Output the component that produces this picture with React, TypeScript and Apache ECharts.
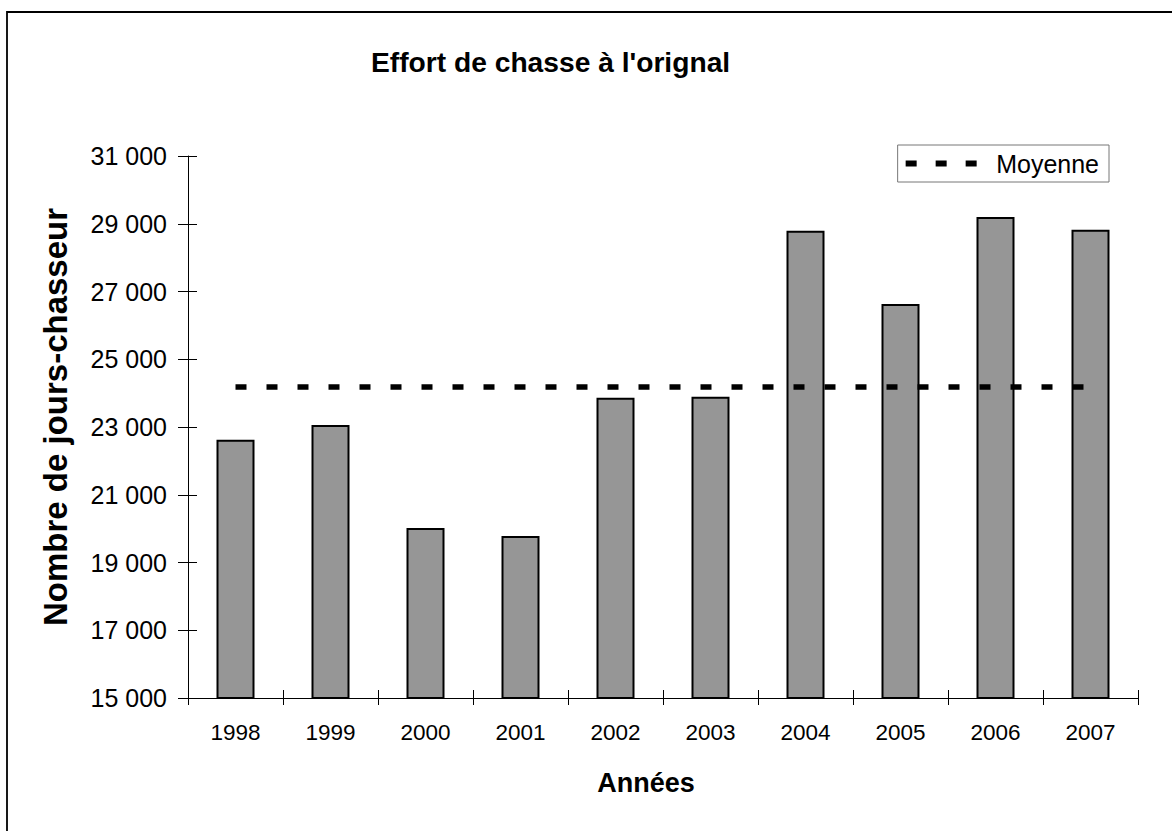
import React, { useEffect, useRef } from "react";
import * as echarts from "echarts";

const years = ["1998", "1999", "2000", "2001", "2002", "2003", "2004", "2005", "2006", "2007"];
const effort = [22620, 23060, 20020, 19780, 23860, 23890, 28790, 26630, 29200, 28820];
const moyenne = [24180, 24180, 24180, 24180, 24180, 24180, 24180, 24180, 24180, 24180];
const yMin = 15000;
const yMax = 31000;
const yStep = 2000;

const FONT = "Liberation Sans, Arial, sans-serif";

function fmt(v: number): string {
  const s = String(Math.round(v));
  return s.replace(/\B(?=(\d{3})+(?!\d))/g, " ");
}

export default function App() {
  const ref = useRef<HTMLDivElement>(null);
  useEffect(() => {
    if (!ref.current) return;
    const chart = echarts.init(ref.current, null, { renderer: "svg" });
    chart.setOption({
      animation: false,
      backgroundColor: "#ffffff",
      textStyle: { fontFamily: FONT, color: "#000" },
      title: {
        text: "Effort de chasse à l'orignal",
        left: 371,
        top: 48,
        padding: 0,
        textStyle: { fontFamily: FONT, fontSize: 28.2, fontWeight: "bold", color: "#000" },
      },
      legend: {
        right: 63,
        top: 145,
        orient: "horizontal",
        itemWidth: 72,
        itemHeight: 6,
        padding: [6, 10, 6, 8],
        borderColor: "#777",
        borderWidth: 1,
        textStyle: { fontFamily: FONT, fontSize: 25, color: "#000", padding: [0, 0, 0, 14] },
        data: [
          {
            name: "Moyenne",
            icon: "path://M0,0h11v6h-11z M30,0h11v6h-11z M60,0h11v6h-11z",
            itemStyle: { color: "#000" },
          },
        ],
      },
      graphic: [
        {
          type: "rect",
          shape: { x: 7, y: 12, width: 1300, height: 1000 },
          style: { fill: "none", stroke: "#000", lineWidth: 1.8 },
          silent: true,
          z: 100,
        },
      ],
      grid: { left: 188, right: 34, top: 156, bottom: 133, containLabel: false },
      xAxis: [
        {
          type: "category",
          data: years,
          boundaryGap: true,
          axisLine: { lineStyle: { color: "#000", width: 1 } },
          axisTick: { show: true, length: 7, lineStyle: { color: "#000" } },
          axisLabel: { fontFamily: FONT, fontSize: 22.5, color: "#000", margin: 23 },
          name: "Années",
          nameLocation: "middle",
          nameGap: 71,
          nameTextStyle: { fontFamily: FONT, fontSize: 27, fontWeight: "bold", color: "#000", padding: [0, 34, 0, 0] },
        },
        {
          type: "category",
          data: years,
          position: "bottom",
          boundaryGap: true,
          axisLine: { show: false },
          axisTick: { show: true, inside: true, length: 8, lineStyle: { color: "#000" } },
          axisLabel: { show: false },
        },
      ],
      yAxis: [
        {
          type: "value",
          min: yMin,
          max: yMax,
          interval: yStep,
          splitLine: { show: false },
          axisLine: { show: true, lineStyle: { color: "#000", width: 1 } },
          axisTick: { show: true, length: 10, lineStyle: { color: "#000" } },
          axisLabel: { fontFamily: FONT, fontSize: 25, color: "#000", margin: 21, formatter: (v: number) => fmt(v) },
          name: "Nombre de jours-chasseur",
          nameLocation: "middle",
          nameGap: 116,
          nameTextStyle: { fontFamily: FONT, fontSize: 33, fontWeight: "bold", color: "#000", padding: [0, 0, 0, 20] },
        },
        {
          type: "value",
          min: yMin,
          max: yMax,
          interval: yStep,
          position: "left",
          splitLine: { show: false },
          axisLine: { show: false },
          axisTick: { show: true, inside: true, length: 9, lineStyle: { color: "#000" } },
          axisLabel: { show: false },
        },
      ],
      series: [
        {
          name: "Effort",
          type: "bar",
          data: effort,
          barWidth: "40%",
          itemStyle: { color: "#969696", borderColor: "#000", borderWidth: 2 },
        },
        {
          name: "Moyenne",
          type: "line",
          data: moyenne,
          symbol: "none",
          lineStyle: { color: "#000", width: 5.5, type: [11, 20] },
          itemStyle: { color: "#000" },
          z: 5,
        },
      ],
    });
    return () => chart.dispose();
  }, []);
  return (
    <div
      ref={ref}
      style={{ position: "absolute", left: 0, top: 0, width: 1172, height: 831 }}
    />
  );
}
